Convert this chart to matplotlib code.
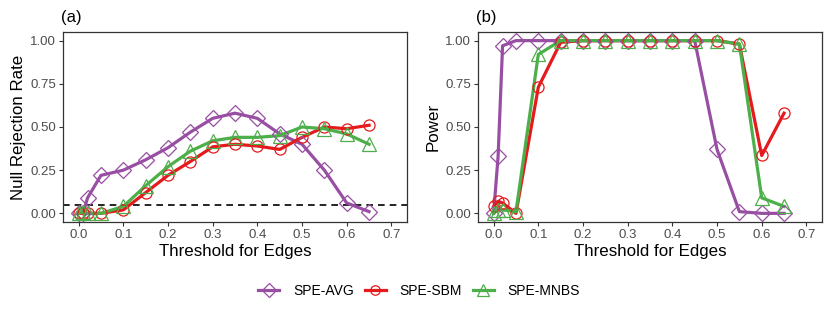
import numpy as np
import matplotlib
matplotlib.use("Agg")
import matplotlib.pyplot as plt
from matplotlib.lines import Line2D

plt.rcParams['font.family'] = ['Liberation Sans', 'DejaVu Sans']

# ================================
# Дані
# ================================
thresholds = [0, 0.01, 0.02, 0.05, 0.1, 0.15, 0.2, 0.25, 0.3, 0.35,
              0.4, 0.45, 0.5, 0.55, 0.6, 0.65]

# (a) Null Rejection Rate
null_avg = [0.0, 0.0, 0.09, 0.22, 0.25, 0.31, 0.38, 0.47, 0.55, 0.58,
            0.55, 0.46, 0.40, 0.25, 0.06, 0.01]
null_sbm = [0.0, 0.0, 0.0, 0.0, 0.02, 0.12, 0.22, 0.30, 0.385, 0.40,
            0.39, 0.37, 0.44, 0.50, 0.49, 0.51]
null_mnbs = [0.0, 0.01, 0.0, 0.0, 0.04, 0.16, 0.27, 0.36, 0.42, 0.44,
             0.44, 0.45, 0.50, 0.49, 0.46, 0.40]

# (b) Power
pow_avg = [0.0, 0.33, 0.97, 1.0, 1.0, 1.0, 1.0, 1.0, 1.0, 1.0,
           1.0, 1.0, 0.37, 0.01, 0.0, 0.0]
pow_sbm = [0.04, 0.07, 0.06, 0.0, 0.73, 0.99, 1.0, 1.0, 1.0, 1.0,
           1.0, 1.0, 1.0, 0.98, 0.335, 0.58]
pow_mnbs = [0.0, 0.02, 0.02, 0.01, 0.92, 1.0, 1.0, 1.0, 1.0, 1.0,
            1.0, 1.0, 1.0, 0.98, 0.09, 0.04]

methods = ["SPE-AVG", "SPE-SBM", "SPE-MNBS"]
colors = ["#984EA3", "#E41A1C", "#4DAF4A"]
markers = ["D", "o", "^"]
msizes = [8.5, 8, 9.5]

alpha_level = 0.05

# ================================
# Побудова
# ================================
fig = plt.figure(figsize=(8.3, 3.12), dpi=100)
ax_a = fig.add_axes([0.0759, 0.2885, 0.4145, 0.609])
ax_b = fig.add_axes([0.5759, 0.2885, 0.4145, 0.609])


def draw_panel(ax, series, ylabel, tag):
    for vals, c, m, ms in zip(series, colors, markers, msizes):
        ax.plot(thresholds, vals, color=c, lw=2.3, zorder=3)
        ax.plot(thresholds, vals, ls="none", marker=m, ms=ms,
                mfc="none", mec=c, mew=0.9, zorder=4)
    ax.set_xlim(-0.035, 0.735)
    ax.set_ylim(-0.05, 1.05)
    ax.set_xticks(np.arange(0, 0.71, 0.1))
    ax.set_xticklabels([f"{v:.1f}" for v in np.arange(0, 0.71, 0.1)])
    ax.set_yticks([0, 0.25, 0.5, 0.75, 1.0])
    ax.set_yticklabels(["0.00", "0.25", "0.50", "0.75", "1.00"])
    ax.tick_params(colors="#333333", labelcolor="#4D4D4D", labelsize=9.5,
                   length=3, width=0.8, pad=2)
    for s in ax.spines.values():
        s.set_color("#333333")
        s.set_linewidth(0.9)
    ax.set_xlabel("Threshold for Edges", fontsize=12.2, labelpad=2)
    ax.set_ylabel(ylabel, fontsize=12.2, labelpad=3)
    ax.set_title(tag, loc="left", fontsize=12, pad=7, x=-0.005)


draw_panel(ax_a, [null_avg, null_sbm, null_mnbs], "Null Rejection Rate", "(a)")
ax_a.axhline(alpha_level, color="black", ls=(0, (4, 3)), lw=1.2, zorder=2)
draw_panel(ax_b, [pow_avg, pow_sbm, pow_mnbs], "Power", "(b)")

handles = [Line2D([0], [0], color=c, lw=2.3, marker=m, ms=ms * 0.85,
                  mfc="none", mec=c, mew=0.9)
           for c, m, ms in zip(colors, markers, msizes)]
fig.legend(handles, methods, loc="center", bbox_to_anchor=(0.505, 0.067),
           ncol=3, frameon=False, fontsize=10, handlelength=1.5,
           columnspacing=0.8, handletextpad=1.0)

fig.savefig("out.png", dpi=100)
